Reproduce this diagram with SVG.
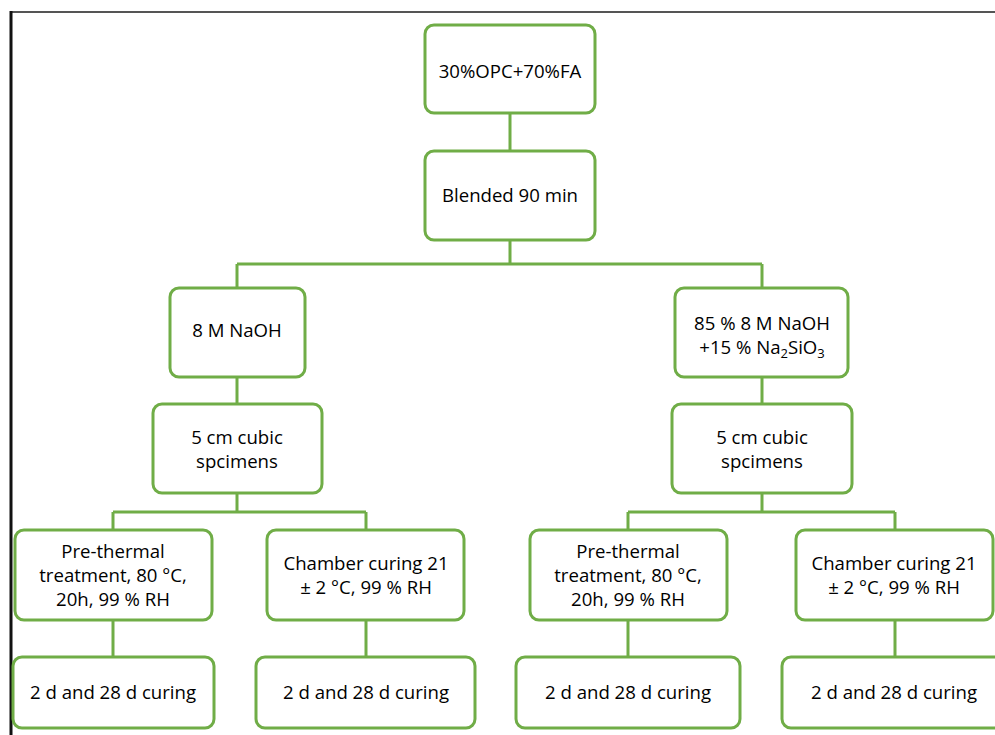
<svg xmlns="http://www.w3.org/2000/svg" width="995" height="735" viewBox="0 0 995 735">
<style>
.n{fill:#fff;stroke:#70AD47;stroke-width:3}
.c{fill:none;stroke:#70AD47;stroke-width:3}
text{font-family:"Open Sans","Noto Sans",sans-serif;font-size:18.6px;fill:#000;text-anchor:middle}
</style>
<rect width="995" height="735" fill="#fff"/>
<g id="frame">
<line x1="10" y1="12" x2="995" y2="12" stroke="#555" stroke-width="2"/>
<line x1="11" y1="11" x2="11" y2="735" stroke="#111" stroke-width="3"/>
</g>
<g id="connectors">
<path class="c" d="M510 113V151M510 240V264M237 264H762M237 264V288M762 264V288M237 377V404M762 377V404M237 493V512M113 512H366M113 512V530M366 512V530M762 493V512M628 512H895M628 512V530M895 512V530M113 620V657M366 620V657M628 620V657M895 620V657"/>
</g>
<g id="n1"><rect class="n" x="425" y="25" width="170" height="88" rx="9"/><text x="510" y="78">30%OPC+70%FA</text></g>
<g id="n2"><rect class="n" x="425" y="151" width="170" height="89" rx="9"/><text x="510" y="202">Blended 90 min</text></g>
<g id="n3"><rect class="n" x="170" y="288" width="135" height="89" rx="9"/><text x="237" y="337">8 M NaOH</text></g>
<g id="n4"><rect class="n" x="675" y="288" width="173" height="89" rx="9"/><text x="762" y="330">85 % 8 M NaOH</text><text x="762" y="354">+15 % Na<tspan font-size="13" dy="4">2</tspan><tspan dy="-4">SiO</tspan><tspan font-size="13" dy="4">3</tspan></text></g>
<g id="n5"><rect class="n" x="153" y="404" width="169" height="89" rx="9"/><text x="237" y="444">5 cm cubic</text><text x="237" y="468">spcimens</text></g>
<g id="n6"><rect class="n" x="672" y="404" width="180" height="89" rx="9"/><text x="762" y="444">5 cm cubic</text><text x="762" y="468">spcimens</text></g>
<g id="n7"><rect class="n" x="15" y="530" width="197" height="90" rx="9"/><text x="113" y="558">Pre-thermal</text><text x="113" y="582">treatment, 80 °C,</text><text x="113" y="606">20h, 99 % RH</text></g>
<g id="n8"><rect class="n" x="267" y="530" width="197" height="90" rx="9"/><text x="366" y="570">Chamber curing 21</text><text x="366" y="594">± 2 °C, 99 % RH</text></g>
<g id="n9"><rect class="n" x="530" y="530" width="197" height="90" rx="9"/><text x="628" y="558">Pre-thermal</text><text x="628" y="582">treatment, 80 °C,</text><text x="628" y="606">20h, 99 % RH</text></g>
<g id="n10"><rect class="n" x="796" y="530" width="197" height="90" rx="9"/><text x="894" y="570">Chamber curing 21</text><text x="894" y="594">± 2 °C, 99 % RH</text></g>
<g id="n11"><rect class="n" x="13" y="657" width="201" height="71" rx="9"/><text x="113" y="699">2 d and 28 d curing</text></g>
<g id="n12"><rect class="n" x="256" y="657" width="219" height="71" rx="9"/><text x="366" y="699">2 d and 28 d curing</text></g>
<g id="n13"><rect class="n" x="516" y="657" width="224" height="71" rx="9"/><text x="628" y="699">2 d and 28 d curing</text></g>
<g id="n14"><rect class="n" x="782" y="657" width="225" height="71" rx="9"/><text x="894" y="699">2 d and 28 d curing</text></g>
</svg>
